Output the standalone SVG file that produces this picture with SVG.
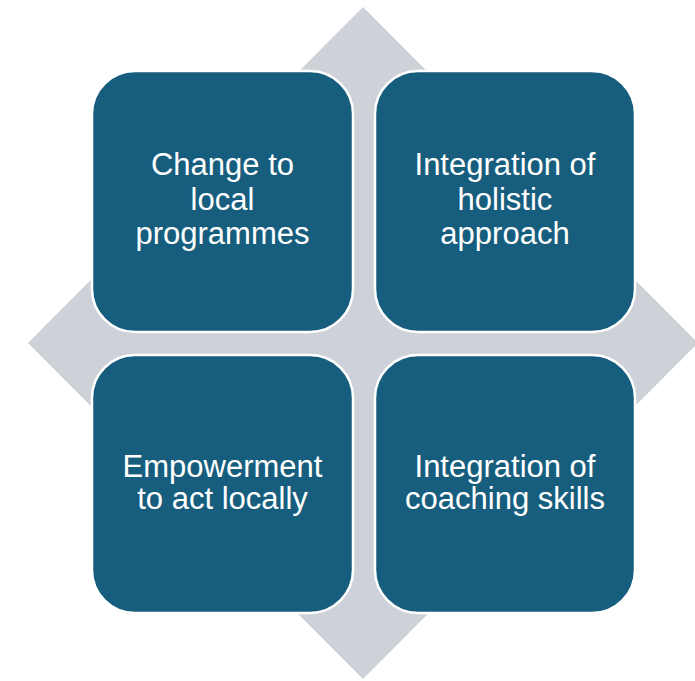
<svg xmlns="http://www.w3.org/2000/svg" width="695" height="681" viewBox="0 0 695 681">
<style>
.bg{fill:#CED2D8}
.box{fill:#175E7E;stroke:#FFFFFF;stroke-width:2.5}
.t{fill:#FFFFFF;font-family:"Liberation Sans",Arial,sans-serif;font-size:31px;text-anchor:middle}
</style>
<rect width="695" height="681" fill="#FFFFFF"/>
<g id="diamond">
<polygon class="bg" points="363,7 698,343 363,679 28,343"/>
</g>
<g id="node-tl">
<rect class="box" x="92" y="71" width="261" height="261" rx="43" ry="43"/>
<text class="t" x="222.5" y="175">Change to</text>
<text class="t" x="222.5" y="209.5">local</text>
<text class="t" x="222.5" y="244">programmes</text>
</g>
<g id="node-tr">
<rect class="box" x="375" y="71" width="260" height="261" rx="43" ry="43"/>
<text class="t" x="505" y="175">Integration of</text>
<text class="t" x="505" y="209.5">holistic</text>
<text class="t" x="505" y="244">approach</text>
</g>
<g id="node-bl">
<rect class="box" x="92" y="355" width="261" height="258" rx="43" ry="43"/>
<text class="t" x="222.5" y="477">Empowerment</text>
<text class="t" x="222.5" y="509">to act locally</text>
</g>
<g id="node-br">
<rect class="box" x="375" y="355" width="260" height="258" rx="43" ry="43"/>
<text class="t" x="505" y="477">Integration of</text>
<text class="t" x="505" y="509">coaching skills</text>
</g>
<g id="connectors"></g>
</svg>
